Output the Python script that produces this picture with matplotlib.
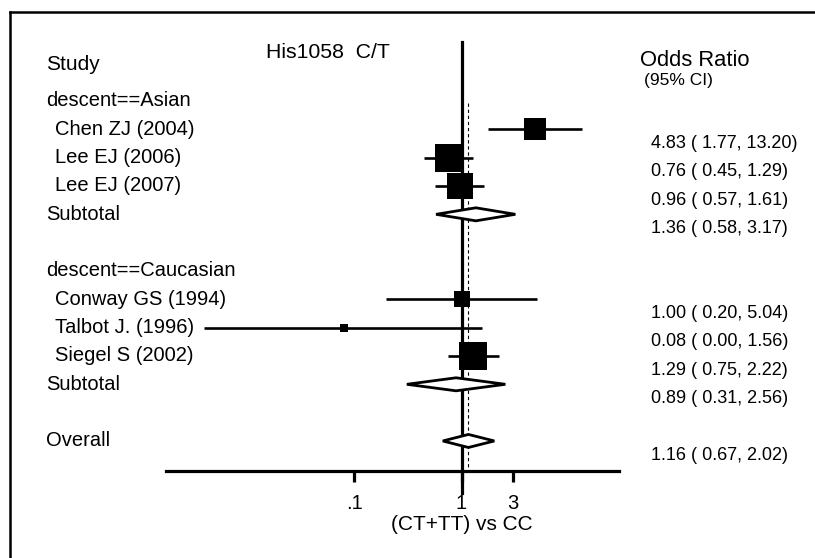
import matplotlib
matplotlib.use("Agg")
import matplotlib.pyplot as plt
from matplotlib.patches import Polygon
from matplotlib.lines import Line2D
from matplotlib.transforms import blended_transform_factory
import numpy as np

plt.rcParams['font.family'] = ['Liberation Sans', 'DejaVu Sans']

# ---------------- data ----------------
title = "His1058  C/T"
xlabel = "(CT+TT) vs CC"
group_names = ["descent==Asian", "descent==Caucasian"]
studies_asian = ["Chen ZJ (2004)", "Lee EJ (2006)", "Lee EJ (2007)"]
studies_cauc = ["Conway GS (1994)", "Talbot J. (1996)", "Siegel S (2002)"]
or_asian = [4.83, 0.76, 0.96]
lo_asian = [1.77, 0.45, 0.57]
hi_asian = [13.20, 1.29, 1.61]
w_asian = [15.4, 25.0, 23.2]
or_cauc = [1.00, 0.08, 1.29]
lo_cauc = [0.20, 0.004, 0.75]
hi_cauc = [5.04, 1.56, 2.22]
w_cauc = [7.2, 2.0, 25.0]
subtotal_or = [1.36, 0.89]
subtotal_lo = [0.58, 0.31]
subtotal_hi = [3.17, 2.56]
overall_or = 1.16
overall_lo = 0.67
overall_hi = 2.02
tick_values = [0.1, 1, 3]
tick_labels = [".1", "1", "3"]

# ---------------- layout ----------------
W, H = 815, 558
fig = plt.figure(figsize=(W / 100, H / 100), dpi=100)
fig.patch.set_facecolor("white")

def px(y):  # pixel row -> figure fraction
    return 1 - y / H

ax_l, ax_r, ax_t, ax_b = 166, 619, 42, 470.5
ax = fig.add_axes([ax_l / W, px(ax_b), (ax_r - ax_l) / W, (ax_b - ax_t) / H])
ax.set_xscale("log")
x1px, decade = 461.5, 107.5
ax.set_xlim(10 ** ((ax_l - x1px) / decade), 10 ** ((ax_r - x1px) / decade))
row0, rowh = 101, 28.33
def rowof(p):
    return (p - row0) / rowh
ax.set_ylim(rowof(ax_b), rowof(ax_t))
for s in ["left", "right", "top"]:
    ax.spines[s].set_visible(False)
ax.spines["bottom"].set_linewidth(2.3)
ax.set_yticks([])
ax.set_xticks(tick_values)
ax.set_xticklabels(tick_labels)
ax.xaxis.set_minor_locator(matplotlib.ticker.NullLocator())
ax.tick_params(axis="x", direction="out", length=8, width=2.3, pad=9, labelsize=14.5)
ax.patch.set_alpha(0)

lab = blended_transform_factory(fig.transFigure, ax.transData)
FS = 14.5
FS_R = 13

# rows
rows_asian = [1, 2, 3]
row_sub = [4, 10]
rows_cauc = [7, 8, 9]
row_groups = [0, 6]
row_overall = 12

ax.text(46 / W, rowof(65), "Study", transform=lab, fontsize=15, va="center", ha="left")
ax.text(266 / W, rowof(53), title, transform=lab, fontsize=15.3, va="center", ha="left")
ax.text(640 / W, rowof(61), "Odds Ratio", transform=lab, fontsize=15.8, va="center", ha="left")
ax.text(644 / W, rowof(80), "(95% CI)", transform=lab, fontsize=12.5, va="center", ha="left")

for g, r in zip(group_names, row_groups):
    ax.text(46 / W, r, g, transform=lab, fontsize=FS, va="center", ha="left")

def fmt(o, l, h):
    return f"{o:.2f} ( {l:.2f}, {h:.2f})"

def draw_studies(names, ors, los, his, ws, rows):
    for n, o, l, h, w, r in zip(names, ors, los, his, ws, rows):
        ax.text(55 / W, r, n, transform=lab, fontsize=FS, va="center", ha="left")
        ax.plot([l, h], [r, r], color="black", lw=1.9, solid_capstyle="butt", zorder=3)
        side = 5.6 * np.sqrt(w) * 0.72
        ax.scatter([o], [r], marker="s", s=side ** 2, color="black", linewidths=0, zorder=4)
        ax.text(651 / W, r + 0.5, fmt(o, l, h), transform=lab, fontsize=FS_R, va="center", ha="left")

draw_studies(studies_asian, or_asian, lo_asian, hi_asian, w_asian, rows_asian)
draw_studies(studies_cauc, or_cauc, lo_cauc, hi_cauc, w_cauc, rows_cauc)

hd = 0.23
def diamond(o, l, h, r):
    poly = Polygon([(l, r), (o, r - hd), (h, r), (o, r + hd)], closed=True,
                   facecolor="white", edgecolor="black", lw=2.0, zorder=5)
    ax.add_patch(poly)
    ax.text(651 / W, r + 0.5, fmt(o, l, h), transform=lab, fontsize=FS_R, va="center", ha="left")

for o, l, h, r in zip(subtotal_or, subtotal_lo, subtotal_hi, row_sub):
    ax.text(46 / W, r, "Subtotal", transform=lab, fontsize=FS, va="center", ha="left")
    diamond(o, l, h, r)

ax.text(46 / W, row_overall, "Overall", transform=lab, fontsize=FS, va="center", ha="left")
diamond(overall_or, overall_lo, overall_hi, row_overall)

# reference lines
ax.plot([1, 1], [rowof(ax_t), rowof(493)], color="black", lw=2.3, clip_on=False, zorder=2)
ax.plot([overall_or, overall_or], [rowof(103), rowof(ax_b)], color="black", lw=0.8,
        dashes=(3, 2.5), zorder=2)

# x label
xl = blended_transform_factory(ax.transData, fig.transFigure)
ax.text(1, px(525), xlabel, transform=xl, fontsize=15, ha="center", va="center")

# frame
fig.add_artist(Line2D([9.5 / W, 9.5 / W], [0, px(11.5)], transform=fig.transFigure, color="black", lw=1.8))
fig.add_artist(Line2D([9.5 / W, 814 / W], [px(11.5), px(11.5)], transform=fig.transFigure, color="black", lw=1.8))

fig.savefig("out.png", dpi=100, facecolor="white")
